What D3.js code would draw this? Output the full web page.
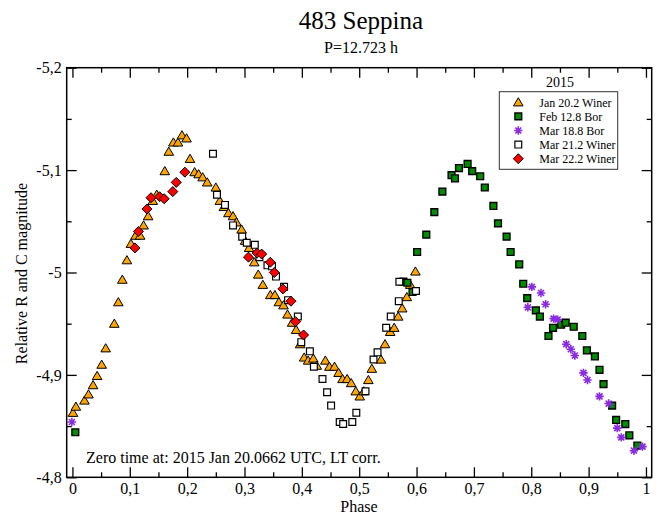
<!DOCTYPE html>
<html>
<head>
<meta charset="utf-8">
<script src="https://cdn.jsdelivr.net/npm/d3@7"></script>
<style>
  html, body { margin: 0; padding: 0; background: #fff; }
  svg { display: block; }
  svg text { font-family: "Liberation Serif", "Times New Roman", serif; }
</style>
</head>
<body>
<svg id="chart" width="665" height="517" font-family="Liberation Serif, Times New Roman, serif"></svg>
<script>
// ---- Data (phase, relative magnitude) ----
const title = "483 Seppina";
const subtitle = "P=12.723 h";
const xLabel = "Phase";
const yLabel = "Relative R and C magnitude";
const note = "Zero time at: 2015 Jan 20.0662 UTC, LT corr.";
const legendTitle = "2015";
const seriesNames = ["Jan 20.2 Winer", "Feb 12.8 Bor", "Mar 18.8 Bor", "Mar 21.2 Winer", "Mar 22.2 Winer"];
const xTicks = [0, 0.1, 0.2, 0.3, 0.4, 0.5, 0.6, 0.7, 0.8, 0.9, 1];
const yTicks = [-5.2, -5.1, -5.0, -4.9, -4.8];

const jan20 = [
  [0.001,-4.863],[0.006,-4.869],[0.021,-4.875],[0.028,-4.881],[0.036,-4.890],[0.043,-4.899],
  [0.051,-4.910],[0.058,-4.926],[0.073,-4.950],[0.080,-4.971],[0.087,-4.993],[0.095,-5.012],
  [0.102,-5.028],[0.110,-5.036],[0.118,-5.036],[0.124,-5.046],[0.132,-5.055],[0.140,-5.070],
  [0.147,-5.076],[0.161,-5.099],[0.168,-5.118],[0.176,-5.127],[0.184,-5.127],[0.191,-5.134],
  [0.199,-5.131],[0.205,-5.111],[0.213,-5.098],[0.220,-5.096],[0.227,-5.093],[0.235,-5.088],
  [0.250,-5.083],[0.257,-5.070],[0.264,-5.064],[0.272,-5.058],[0.280,-5.055],[0.286,-5.049],
  [0.295,-5.042],[0.301,-5.031],[0.308,-5.024],[0.317,-5.010],[0.324,-4.998],[0.332,-4.988],
  [0.345,-4.978],[0.353,-4.978],[0.360,-4.971],[0.368,-4.968],[0.375,-4.959],[0.383,-4.951],
  [0.390,-4.944],[0.397,-4.930],[0.404,-4.917],[0.411,-4.914],[0.420,-4.916],[0.426,-4.909],
  [0.441,-4.914],[0.448,-4.908],[0.457,-4.908],[0.464,-4.902],[0.471,-4.896],[0.479,-4.896],
  [0.486,-4.892],[0.494,-4.884],[0.501,-4.879],[0.508,-4.884],[0.516,-4.895],[0.522,-4.906],
  [0.538,-4.915],[0.545,-4.930],[0.554,-4.942],[0.561,-4.946],[0.568,-4.957],[0.575,-4.965],
  [0.583,-4.976],[0.589,-4.988],[0.598,-5.001]
];
const feb12 = [
  [0.005,-4.844],[0.577,-4.991],[0.584,-4.990],[0.593,-4.981],[0.601,-5.020],[0.617,-5.037],
  [0.631,-5.059],[0.645,-5.079],[0.661,-5.095],[0.667,-5.092],[0.674,-5.102],[0.689,-5.106],
  [0.697,-5.099],[0.711,-5.094],[0.719,-5.083],[0.734,-5.065],[0.742,-5.048],[0.757,-5.035],
  [0.764,-5.020],[0.779,-5.008],[0.786,-4.989],[0.793,-4.975],[0.808,-4.963],[0.815,-4.957],
  [0.830,-4.938],[0.838,-4.946],[0.852,-4.949],[0.860,-4.951],[0.874,-4.947],[0.889,-4.938],
  [0.897,-4.924],[0.911,-4.918],[0.919,-4.905],[0.926,-4.891],[0.941,-4.870],[0.948,-4.856],
  [0.964,-4.852],[0.971,-4.841],[0.985,-4.831]
];
const mar18 = [
  [-0.001,-4.854],[0.794,-4.966],[0.801,-4.986],[0.817,-4.980],[0.825,-4.969],[0.839,-4.955],
  [0.846,-4.954],[0.861,-4.930],[0.869,-4.925],[0.876,-4.919],[0.891,-4.902],[0.898,-4.895],
  [0.919,-4.879],[0.935,-4.872],[0.950,-4.848],[0.957,-4.839],[0.979,-4.826],[0.994,-4.830]
];
const mar21 = [
  [0.245,-5.116],[0.252,-5.076],[0.266,-5.066],[0.280,-5.046],[0.296,-5.035],[0.304,-5.029],
  [0.318,-5.027],[0.326,-5.015],[0.340,-5.007],[0.348,-5.006],[0.355,-4.996],[0.369,-4.986],
  [0.376,-4.973],[0.393,-4.957],[0.399,-4.932],[0.414,-4.923],[0.421,-4.908],[0.436,-4.896],
  [0.444,-4.883],[0.451,-4.870],[0.466,-4.854],[0.472,-4.852],[0.488,-4.854],[0.495,-4.863],
  [0.511,-4.884],[0.525,-4.915],[0.532,-4.922],[0.547,-4.946],[0.555,-4.957],[0.569,-4.972],
  [0.570,-4.991],[0.599,-4.982]
];
const mar22 = [
  [0.109,-5.024],[0.115,-5.040],[0.130,-5.062],[0.137,-5.073],[0.152,-5.074],[0.160,-5.072],
  [0.175,-5.079],[0.181,-5.088],[0.196,-5.098],[0.307,-5.015],[0.322,-5.019],[0.330,-5.018],
  [0.345,-5.010],[0.352,-5.000],[0.367,-4.984],[0.381,-4.972],[0.389,-4.952],[0.403,-4.939]
];

// ---- Layout ----
const FONT = "Liberation Serif, Times New Roman, serif";
const svg = d3.select("#chart");
const L = 66.7, T = 67.7, R = 651.7, B = 477.3;
const x = d3.scaleLinear().domain([-0.01, 1.01]).range([L, R]);
const y = d3.scaleLinear().domain([-5.2, -4.8]).range([T, B]);
const fmt = d => String(+d.toFixed(1)).replace(".", ",");

// Symbols
const shapes = {
  triangle: "M0,-4.6L4.8,3.6L-4.8,3.6Z",
  square: "M-3.4,-3.4H3.4V3.4H-3.4Z",
  diamond: "M0,-5L5,0L0,5L-5,0Z",
  star: "M-4.2,0H4.2M0,-4.2V4.2M-3,-3L3,3M-3,3L3,-3"
};
const styles = [
  {shape: "triangle", fill: "#FFA500", stroke: "#000", sw: 1},
  {shape: "square", fill: "#008C00", stroke: "#000", sw: 1.4},
  {shape: "star", fill: "none", stroke: "#8A2BE2", sw: 1.6},
  {shape: "square", fill: "#fff", stroke: "#000", sw: 1.2},
  {shape: "diamond", fill: "#FF0000", stroke: "#000", sw: 1}
];
const allSeries = [jan20, feb12, mar18, mar21, mar22];

// Frame and axes
const minorX = d3.range(0, 21).map(i => i * 0.05).filter(v => Math.abs(v * 10 - Math.round(v * 10)) > 1e-6);
const minorY = [-5.15, -5.05, -4.95, -4.85];

function axisStyle(g) {
  g.attr("font-family", FONT);
  g.select(".domain").remove();
  g.selectAll("line").attr("stroke", "#000").attr("stroke-width", 1.3);
  g.selectAll("text").attr("fill", "#000").attr("font-size", 16).attr("font-family", FONT);
}

svg.append("g").attr("transform", `translate(0,${B})`)
  .call(d3.axisBottom(x).tickValues(xTicks).tickFormat(fmt).tickSize(-10).tickPadding(5)).call(axisStyle);
svg.append("g").attr("transform", `translate(0,${B})`)
  .call(d3.axisBottom(x).tickValues(minorX).tickFormat("").tickSize(-5)).call(axisStyle);
svg.append("g").attr("transform", `translate(0,${T})`)
  .call(d3.axisTop(x).tickValues(xTicks).tickFormat("").tickSize(-10)).call(axisStyle);
svg.append("g").attr("transform", `translate(0,${T})`)
  .call(d3.axisTop(x).tickValues(minorX).tickFormat("").tickSize(-5)).call(axisStyle);
svg.append("g").attr("transform", `translate(${L},0)`)
  .call(d3.axisLeft(y).tickValues(yTicks).tickFormat(fmt).tickSize(-10).tickPadding(5)).call(axisStyle);
svg.append("g").attr("transform", `translate(${L},0)`)
  .call(d3.axisLeft(y).tickValues(minorY).tickFormat("").tickSize(-5)).call(axisStyle);
svg.append("g").attr("transform", `translate(${R},0)`)
  .call(d3.axisRight(y).tickValues(yTicks).tickFormat("").tickSize(-10)).call(axisStyle);
svg.append("g").attr("transform", `translate(${R},0)`)
  .call(d3.axisRight(y).tickValues(minorY).tickFormat("").tickSize(-5)).call(axisStyle);

svg.append("rect").attr("x", L).attr("y", T).attr("width", R - L).attr("height", B - T)
  .attr("fill", "none").attr("stroke", "#000").attr("stroke-width", 1.5);

// Points
allSeries.forEach((data, i) => {
  const st = styles[i];
  svg.append("g").selectAll("path").data(data).join("path")
    .attr("d", shapes[st.shape])
    .attr("transform", d => `translate(${x(d[0])},${y(d[1])})`)
    .attr("fill", st.fill).attr("stroke", st.stroke).attr("stroke-width", st.sw);
});

// Texts
function txt(xp, yp, size, s, anchor) {
  return svg.append("text").attr("x", xp).attr("y", yp).attr("font-size", size)
    .attr("font-family", FONT).attr("fill", "#000")
    .attr("text-anchor", anchor || "start").text(s);
}
txt(361, 29, 25, title, "middle");
txt(361, 53, 16, subtitle, "middle");
txt(359, 512, 16, xLabel, "middle");
svg.append("text").attr("transform", `translate(27,${273.5}) rotate(-90)`).attr("text-anchor", "middle")
  .attr("font-family", FONT).attr("font-size", 16).text(yLabel);
txt(86, 462.5, 16, note);

// Legend
txt(560, 86.5, 14, legendTitle, "middle");
svg.append("rect").attr("x", 499.3).attr("y", 91.7).attr("width", 118.4).attr("height", 77.6)
  .attr("fill", "#fff").attr("stroke", "#333").attr("stroke-width", 1);
const lg = svg.append("g").selectAll("g").data(seriesNames).join("g")
  .attr("transform", (d, i) => `translate(518.3,${102.3 + i * 14.1})`);
lg.append("path").attr("d", (d, i) => shapes[styles[i].shape])
  .attr("fill", (d, i) => styles[i].fill).attr("stroke", (d, i) => styles[i].stroke)
  .attr("stroke-width", (d, i) => styles[i].sw);
lg.append("text").attr("x", 21).attr("y", 4.2).attr("font-size", 12)
  .attr("font-family", FONT).text(d => d);
</script>
</body>
</html>
